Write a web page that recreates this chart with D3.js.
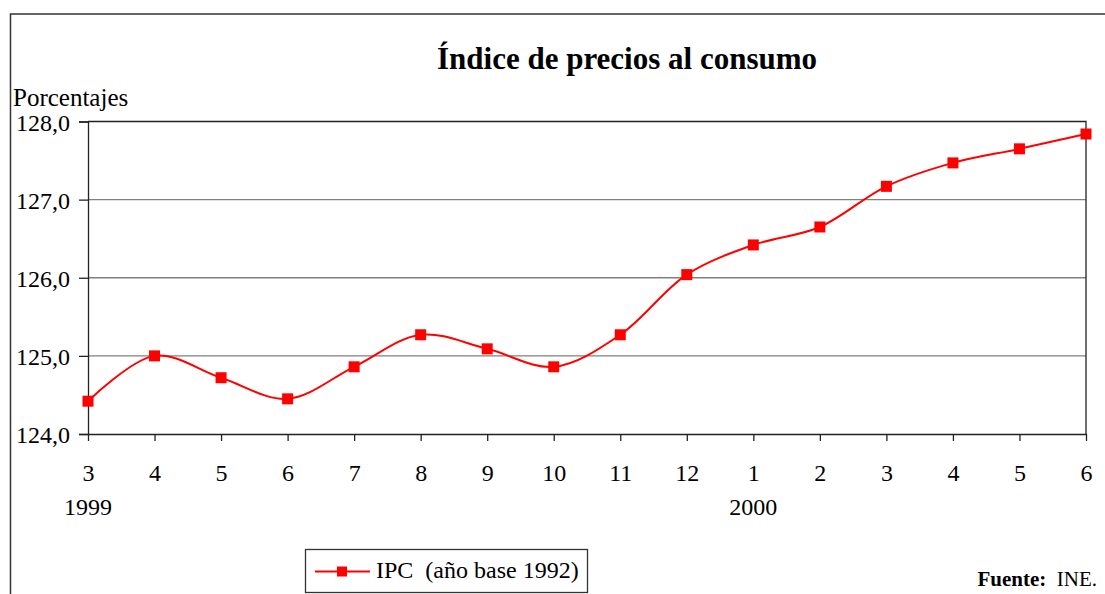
<!DOCTYPE html>
<html>
<head>
<meta charset="utf-8">
<script src="https://cdn.jsdelivr.net/npm/d3@7"></script>
<style>
  body { margin: 0; }
  svg text { font-family: "Liberation Serif", "Times New Roman", "DejaVu Serif", serif !important; font-weight: 400; }
  svg text.bold, svg tspan.bold { font-weight: 700; }
</style>
</head>
<body>
<svg id="chart" width="1105" height="594"></svg>
<script>
// ---- data ----
const months = ["3","4","5","6","7","8","9","10","11","12","1","2","3","4","5","6"];
const years = ["1999","","","","","","","","","","2000","","","","",""];
const ipc = [124.42, 125.00, 124.72, 124.45, 124.86, 125.27, 125.09, 124.86,
             125.27, 126.04, 126.42, 126.65, 127.17, 127.47, 127.65, 127.84];
const yTicks = [124, 125, 126, 127, 128];
const title = "Índice de precios al consumo";
const yLabel = "Porcentajes";
const seriesName = "IPC\u00a0\u00a0(año base 1992)";

// ---- layout ----
const svg = d3.select("#chart");
const pL = 88, pR = 1086, pT = 121.5, pB = 434;
const idx = d3.range(months.length);

const x = d3.scalePoint().domain(idx).range([pL, pR]);
const y = d3.scaleLinear().domain([124, 128]).range([pB, pT]);

// outer frame
svg.append("path")
  .attr("d", `M10.5,594 L10.5,14 L1105,14`)
  .attr("fill", "none").attr("stroke", "#333").attr("stroke-width", 1.5);

// title
svg.append("text").attr("class", "bold")
  .attr("x", 627).attr("y", 69)
  .attr("text-anchor", "middle")
  .attr("font-size", 31)
  .text(title);

// y label
svg.append("text")
  .attr("x", 13).attr("y", 106)
  .attr("font-size", 25)
  .text(yLabel);

// gridlines
svg.append("g").selectAll("line")
  .data(yTicks.filter(d => d > 124 && d < 128))
  .join("line")
  .attr("x1", pL).attr("x2", pR)
  .attr("y1", d => y(d)).attr("y2", d => y(d))
  .attr("stroke", "#808080").attr("stroke-width", 1.3);

// plot border top/right
svg.append("path")
  .attr("d", `M${pL},${pT} L${pR},${pT} L${pR},${pB}`)
  .attr("fill", "none").attr("stroke", "#222").attr("stroke-width", 1.3);

// y axis
const yAxis = svg.append("g")
  .attr("transform", `translate(${pL},0)`)
  .call(d3.axisLeft(y).tickValues(yTicks)
        .tickFormat(d => d3.format(".1f")(d).replace(".", ","))
        .tickSize(9).tickPadding(8));
yAxis.attr("font-family", null).attr("font-size", 24);
yAxis.select(".domain").attr("stroke", "#222").attr("stroke-width", 1.3);
yAxis.selectAll(".tick line").attr("stroke", "#222").attr("stroke-width", 1.3);
yAxis.selectAll("text").attr("fill", "#000")
  .attr("dy", "0.36em").attr("x", -18);

// x axis
const xAxis = svg.append("g")
  .attr("transform", `translate(0,${pB})`)
  .call(d3.axisBottom(x).tickFormat(i => months[i]).tickSize(7).tickSizeOuter(0));
xAxis.attr("font-family", null).attr("font-size", 24);
xAxis.select(".domain").attr("stroke", "#222").attr("stroke-width", 1.3);
xAxis.selectAll(".tick line").attr("stroke", "#222").attr("stroke-width", 1.3);
xAxis.selectAll("text").attr("fill", "#000")
  .attr("y", 47).attr("dy", 0);

// year labels
svg.append("g").selectAll("text")
  .data(idx.filter(i => years[i] !== ""))
  .join("text")
  .attr("x", i => x(i)).attr("y", 515)
  .attr("text-anchor", "middle")
  .attr("font-size", 24)
  .text(i => years[i]);

// line
const line = d3.line()
  .x((d, i) => x(i)).y(d => y(d))
  .curve(d3.curveCatmullRom.alpha(0.5));
svg.append("path")
  .datum(ipc)
  .attr("d", line)
  .attr("fill", "none").attr("stroke", "#ff0000").attr("stroke-width", 2);

// markers
const ms = 11;
svg.append("g").selectAll("rect")
  .data(ipc)
  .join("rect")
  .attr("x", (d, i) => x(i) - ms / 2).attr("y", d => y(d) - ms / 2)
  .attr("width", ms).attr("height", ms)
  .attr("fill", "#ff0000");

// legend
const lg = svg.append("g");
lg.append("rect")
  .attr("x", 305.5).attr("y", 549.5).attr("width", 282).attr("height", 43)
  .attr("fill", "#fff").attr("stroke", "#333").attr("stroke-width", 1.3);
lg.append("line")
  .attr("x1", 315).attr("x2", 370).attr("y1", 571.5).attr("y2", 571.5)
  .attr("stroke", "#ff0000").attr("stroke-width", 2);
lg.append("rect")
  .attr("x", 337).attr("y", 566.5).attr("width", 10).attr("height", 10)
  .attr("fill", "#ff0000");
lg.append("text")
  .attr("x", 376).attr("y", 578)
  .attr("font-size", 24)
  .text(seriesName);

// source
const src = svg.append("text")
  .attr("x", 1097).attr("y", 586)
  .attr("text-anchor", "end")
  .attr("font-size", 21);
src.append("tspan").attr("class", "bold").text("Fuente:");
src.append("tspan").text("\u00a0 INE.");
</script>
</body>
</html>
